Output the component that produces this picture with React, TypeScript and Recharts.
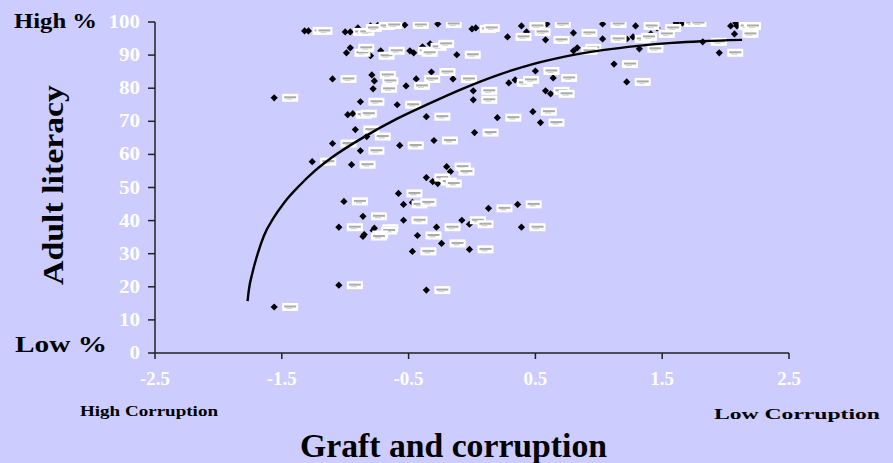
import React from "react";
import { ScatterChart, Scatter, XAxis, YAxis } from "recharts";

// graft & corruption score (x) vs adult literacy % (y), one entry per country
const graftScores = [
  -1.32, -1.29, -1.0, -0.96, -0.9, -0.8, -0.74, -0.53, -0.27, 0.0, 0.03, 0.28,
  0.39, 0.43, 0.59, 0.58, 0.8, 0.83, 0.8, 1.03, 1.29, 1.41, 1.03, 1.22, 1.27,
  1.32, 1.61, 1.66, 1.82, 1.95, 2.04, 2.08, 2.09, 2.07, 1.12, 1.22, 1.46,
  -0.99, -0.96, -0.8, -0.72, -0.49, -0.46, -0.39, -0.33, -0.12, -0.32, -0.79,
  -1.1, -0.77, -0.78, -0.44, -0.52, -0.15, 0.01, 0.01, 0.29, 0.34, 0.5, 0.64,
  0.58, 0.62, -0.88, -0.59, -0.98, -0.94, -0.36, 0.2, 0.48, 0.54, -0.92, -0.83,
  0.02, -1.1, -0.88, -0.57, -0.3, -1.26, -0.95, -0.2, -0.17, -0.36, -0.31,
  -0.27, -0.58, -0.54, -0.47, -1.01, 0.13, 0.36, -0.86, -1.05, -0.77, -0.78,
  -0.85, -0.86, -0.54, -0.28, -0.08, -0.02, -0.43, -0.24, -0.02, 0.39, -0.47,
  -1.05, -0.36, -1.56, -1.56,
];

const literacyRates = [
  97.3, 97.3, 97.0, 97.0, 98.2, 98.8, 99.1, 99.1, 99.4, 97.9, 98.2, 95.5, 98.8,
  97.0, 99.4, 94.6, 96.7, 92.2, 91.3, 99.4, 98.8, 96.4, 94.9, 94.9, 95.5, 91.9,
  99.7, 99.7, 94.0, 90.7, 98.8, 99.7, 98.8, 96.4, 87.3, 81.9, 98.2,
  90.7, 92.2, 89.8, 91.3, 91.3, 90.7, 92.5, 93.4, 90.1, 84.9, 84.0,
  82.8, 82.2, 79.8, 82.8, 80.7, 82.8, 79.2, 76.5, 81.6, 82.5, 85.2, 83.1,
  79.2, 78.3, 75.9, 75.0, 72.0, 72.3, 71.4, 71.1, 72.9, 69.6, 67.5, 65.4,
  66.6, 63.3, 61.1, 62.7, 64.2, 57.8, 56.9, 56.3, 54.8, 53.0, 51.8,
  51.2, 48.2, 44.9, 45.5, 45.8, 43.7, 44.9, 41.3, 38.0, 37.7, 37.0,
  35.8, 35.2, 40.1, 38.0, 40.1, 38.9, 35.5, 33.1, 31.3, 38.0, 30.7,
  20.5, 19.0, 77.1, 13.9,
];

// logarithmic trend line
const trendGraft = [
  -1.77, -1.76, -1.73, -1.69, -1.64, -1.57, -1.48, -1.36, -1.24, -1.1, -0.85,
  -0.59, -0.33, -0.09, 0.22, 0.48, 0.75, 1.03, 1.31, 1.58, 1.81, 2.13,
];
const trendLiteracy = [
  15.7, 19, 24.5, 30, 35.5, 40.5, 45.5, 50.6, 55, 59.2, 65.3, 70.8, 75.5, 79.6,
  84.2, 87.3, 89.7, 91.5, 92.8, 93.7, 94.2, 94.6,
];

const xTicks = [-2.5, -1.5, -0.5, 0.5, 1.5, 2.5];
const yTicks = [0, 10, 20, 30, 40, 50, 60, 70, 80, 90, 100];

const points = graftScores.map((x, i) => ({ x, y: literacyRates[i] }));
const trend = trendGraft.map((x, i) => ({ x, y: trendLiteracy[i] }));

const serif = "'Liberation Serif', 'Times New Roman', serif";

const Diamond = (props: any) => {
  const { cx, cy } = props;
  const r = 3.6;
  return (
    <polygon
      points={`${cx},${cy - r} ${cx + r},${cy} ${cx},${cy + r} ${cx - r},${cy}`}
      fill="#000"
    />
  );
};

// small white data label with blurred text, sits right of each marker
const LabelBox = (props: any) => {
  const { cx, cy } = props;
  return (
    <g>
      <rect x={cx + 8} y={cy - 4} width={16} height={8} fill="#fff" />
      <rect x={cx + 10} y={cy - 1.5} width={12} height={2} fill="#aaa" />
      <rect x={cx + 12} y={cy + 0.5} width={6} height={1.5} fill="#d4d4d4" />
    </g>
  );
};

const YTick = (props: any) => {
  const { x, y, payload } = props;
  const s = String(payload.value);
  return (
    <text x={x} y={y} dy={6} textAnchor="end" fill="#fff"
      textLength={s.length * 10.5} lengthAdjust="spacingAndGlyphs"
      style={{ fontSize: 18, fontWeight: "bold", fontFamily: serif }}>
      {s}
    </text>
  );
};

const XTick = (props: any) => {
  const { x, y, payload } = props;
  return (
    <text x={x} y={y} dy={24} textAnchor="middle" fill="#fff"
      style={{ fontSize: 19, fontWeight: "bold", fontFamily: serif }}>
      {String(payload.value)}
    </text>
  );
};

const txt = (size: number) => ({ fontSize: size, fontWeight: "bold" as const, fontFamily: serif });

export default function App() {
  return (
    <div style={{ position: "absolute", left: 0, top: 0, width: 893, height: 463, background: "#CCCCFF" }}>
      <ScatterChart width={893} height={463}
        margin={{ top: 22, right: 104, bottom: 80, left: 95 }}>
        <XAxis type="number" dataKey="x" domain={[-2.5, 2.5]} ticks={xTicks}
          allowDataOverflow height={30} tickSize={6}
          axisLine={{ stroke: "#222", strokeWidth: 1.5 }}
          tickLine={{ stroke: "#222", strokeWidth: 1.5 }} tick={<XTick />} />
        <YAxis type="number" dataKey="y" domain={[0, 100]} ticks={yTicks}
          allowDataOverflow width={60} tickSize={7} tickMargin={8}
          axisLine={{ stroke: "#222", strokeWidth: 1.5 }}
          tickLine={{ stroke: "#222", strokeWidth: 1.5 }} tick={<YTick />} />
        <Scatter data={points} shape={<Diamond />} isAnimationActive={false} />
        <Scatter data={points} shape={<LabelBox />} isAnimationActive={false} />
        <Scatter data={trend} line={{ stroke: "#000", strokeWidth: 2.4 }}
          lineJointType="monotoneX" shape={() => <g />} isAnimationActive={false} />
      </ScatterChart>
      <svg width={893} height={463}
        style={{ position: "absolute", left: 0, top: 0, pointerEvents: "none" }}>
        <text x={14} y={28} fill="#000" style={txt(20)}
          textLength={83} lengthAdjust="spacingAndGlyphs">High %</text>
        <text x={15} y={352} fill="#000" style={txt(23)}
          textLength={92} lengthAdjust="spacingAndGlyphs">Low %</text>
        <text x={63} y={185} fill="#000" style={txt(30)} textAnchor="middle"
          textLength={200} lengthAdjust="spacingAndGlyphs"
          transform="rotate(-90 63 185)">Adult literacy</text>
        <text x={80} y={416} fill="#000" style={txt(14)}
          textLength={138} lengthAdjust="spacingAndGlyphs">High Corruption</text>
        <text x={714} y={419} fill="#000" style={txt(15)}
          textLength={166} lengthAdjust="spacingAndGlyphs">Low Corruption</text>
        <text x={300} y={457} fill="#000" style={txt(33)}
          textLength={307} lengthAdjust="spacingAndGlyphs">Graft and corruption</text>
      </svg>
    </div>
  );
}
